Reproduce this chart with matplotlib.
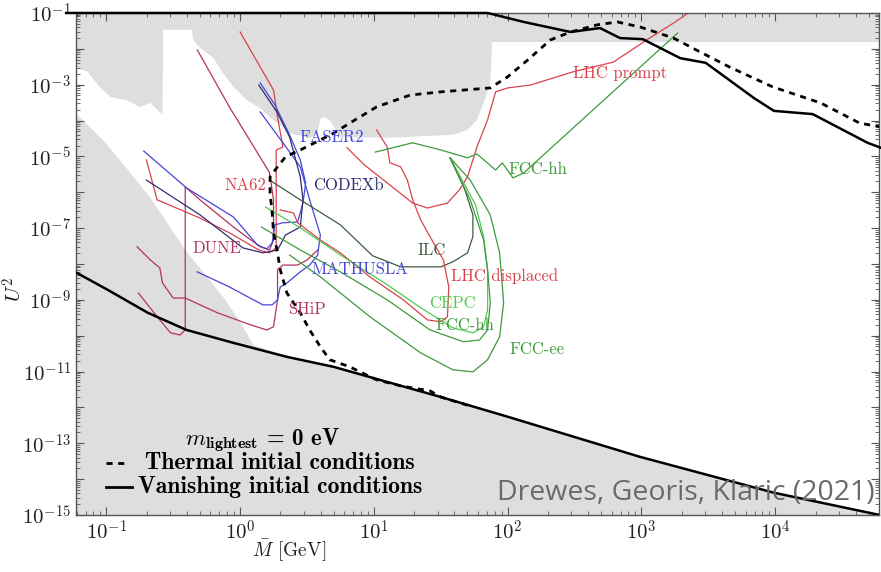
import numpy as np
import matplotlib
matplotlib.use('Agg')
import matplotlib.pyplot as plt
from matplotlib.ticker import FixedLocator, FuncFormatter, NullFormatter

plt.rcParams['mathtext.fontset'] = 'cm'
plt.rcParams['font.family'] = ['cmr10', 'DejaVu Serif']
plt.rcParams['axes.unicode_minus'] = False

# everything below is log10(M / GeV) and log10(U^2)

# excluded regions (grey)
excl_top_lm = [-1.30, -1.23, -1.14, -1.05, -0.97, -0.85, -0.75, -0.67, -0.58, -0.575, -0.36, -0.35, -0.32,
               -0.28, -0.20, -0.13, -0.05, 0.05, 0.15, 0.22, 0.28, 0.37, 0.52, 0.575, 0.60, 0.62, 0.67,
               0.75, 1.10, 1.59, 1.70, 1.77, 1.82, 1.87, 1.883, 1.89, 4.85]
excl_top_lu = [-2.53, -2.53, -2.64, -3.06, -3.34, -3.43, -3.62, -3.51, -3.84, -1.47, -1.47, -1.75, -1.89,
               -2.03, -2.25, -2.67, -3.06, -3.43, -3.65, -3.90, -4.07, -4.35, -4.48, -4.40, -3.98, -3.90, -3.98,
               -4.46, -4.48, -4.40, -4.26, -3.98, -3.51, -2.95, -1.84, -1.81, -1.81]
excl_low_lm = [-1.30, -1.23, -1.01, -0.90, -0.79, -0.67, -0.56, -0.41, -0.26, -0.11, 0.0, 0.10]
excl_low_lu = [-3.60, -3.79, -4.60, -5.10, -5.60, -6.16, -6.77, -7.61, -8.30, -9.00, -9.61, -10.26]

# BAU curves
vanish_low_lm = [-1.30, -1.22, -0.99, -0.69, -0.40, -0.05, 0.35, 0.70, 1.50, 2.00, 2.99, 3.99, 4.78, 4.85]
vanish_low_lu = [-8.10, -8.25, -8.72, -9.36, -9.84, -10.20, -10.59, -10.87, -11.71, -12.26, -13.38, -14.38, -15.0, -15.05]
vanish_up_lm = [-1.30, 1.85, 2.12, 2.47, 2.69, 2.84, 3.01, 3.29, 3.48, 3.84, 3.99, 4.28, 4.69, 4.79]
vanish_up_lu = [-1.0, -1.0, -1.25, -1.53, -1.42, -1.70, -1.73, -2.26, -2.39, -3.37, -3.73, -3.82, -4.62, -4.76]
thermal_lm = [1.70, 1.50, 1.42, 1.20, 1.02, 0.82, 0.67, 0.60, 0.52, 0.45, 0.35, 0.30, 0.28, 0.25, 0.24, 0.224,
              0.224, 0.28, 0.34, 0.45, 0.60, 0.70, 0.82, 1.02, 1.27, 1.50, 1.87, 2.00, 2.15, 2.32, 2.47, 2.67,
              2.82, 2.99, 3.24, 3.44, 3.66, 3.98, 4.34, 4.63, 4.79]
thermal_lu = [-11.94, -11.71, -11.54, -11.40, -11.23, -10.87, -10.67, -10.31, -9.84, -9.36, -8.81, -8.16, -7.69,
              -7.13, -6.58, -6.02, -5.57, -5.29, -5.01, -4.82, -4.54, -4.35, -4.07, -3.62, -3.29, -3.20, -3.09,
              -2.78, -2.31, -1.75, -1.53, -1.33, -1.25, -1.39, -1.70, -2.09, -2.51, -3.06, -3.51, -4.07, -4.18]

# experiments
na62_lm = [-0.70, -0.62, -0.30, -0.08, 0.14, 0.22, 0.27, 0.27, 0.32, 0.28, 0.25, 0.0]
na62_lu = [-5.10, -6.21, -6.72, -7.13, -7.61, -7.69, -7.55, -4.82, -4.74, -3.90, -3.15, -1.53]
dune_lm = [-0.76, -0.62, -0.52, -0.45, -0.41, -0.41, -0.30, -0.05, 0.15, 0.22, 0.25, 0.25, 0.22, -0.08, -0.32]
dune_lu = [-8.81, -9.47, -9.92, -9.98, -9.84, -5.85, -6.21, -6.97, -7.52, -7.61, -7.33, -6.21, -5.45, -3.62, -2.03]
ship_lm = [-0.77, -0.67, -0.60, -0.58, -0.50, -0.41, -0.17, 0.08, 0.20, 0.25, 0.28, 0.28, 0.32, 0.43, 0.50, 0.58]
ship_lu = [-7.52, -7.89, -8.11, -8.53, -8.95, -8.95, -9.36, -9.70, -9.84, -9.75, -9.00, -8.16, -8.03, -8.03, -7.89, -7.61]
mathusla_lm = [-0.32, -0.08, 0.17, 0.24, 0.28, 0.30, 0.35, 0.45, 0.52, 0.58, 0.60, 0.52, 0.45, 0.32, 0.15]
mathusla_lu = [-8.22, -8.64, -9.14, -9.14, -9.00, -8.64, -8.53, -8.22, -8.03, -7.75, -7.19, -6.21, -5.29, -4.62, -3.76]
faser2_lm = [-0.72, -0.40, -0.05, 0.13, 0.20, 0.24, 0.26, 0.32, 0.43, 0.47, 0.49, 0.45, 0.37, 0.26, 0.15]
faser2_lu = [-4.85, -5.88, -6.69, -7.47, -7.58, -7.41, -6.91, -6.85, -6.83, -6.30, -5.74, -5.10, -4.40, -3.56, -2.95]
codexb_lm = [-0.70, -0.30, 0.02, 0.17, 0.28, 0.34, 0.45, 0.47, 0.45, 0.37, 0.28, 0.14]
codexb_lu = [-5.66, -6.63, -7.55, -7.69, -7.61, -7.19, -6.97, -6.21, -5.57, -4.46, -3.79, -3.01]
ilc_lm = [0.22, 0.45, 0.75, 0.99, 1.20, 1.50, 1.59, 1.70, 1.74, 1.74, 1.68, 1.57]
ilc_lu = [-5.66, -6.21, -6.91, -7.77, -8.08, -8.08, -7.94, -7.69, -7.24, -6.63, -5.93, -5.04]
lhc_prompt_lm = [0.80, 0.93, 1.10, 1.29, 1.40, 1.55, 1.64, 1.70, 1.77, 1.85, 1.91, 2.00, 2.17, 2.49, 2.79, 3.04, 3.24, 3.35]
lhc_prompt_lu = [-4.76, -5.24, -5.74, -6.30, -6.44, -6.30, -5.93, -5.57, -4.74, -3.98, -3.20, -3.09, -3.01, -2.64, -2.37, -1.75, -1.28, -1.0]
lhc_displ_lm = [0.30, 0.40, 0.43, 0.60, 0.75, 0.97, 1.22, 1.40, 1.50, 1.55, 1.56, 1.52, 1.42, 1.35, 1.29, 1.25, 1.20, 1.12, 1.10, 1.02]
lhc_displ_lu = [-6.49, -6.58, -6.85, -7.33, -7.69, -8.36, -9.00, -9.56, -9.61, -9.47, -8.64, -7.89, -7.24, -6.77, -6.21, -5.66, -5.29, -5.18, -4.74, -4.26]
fcchh_w_lm = [1.01, 1.29, 1.50, 1.70, 1.77, 1.91, 1.96, 2.04, 2.12, 3.27]
fcchh_w_lu = [-4.88, -4.62, -4.82, -5.04, -4.93, -5.38, -5.18, -5.60, -5.46, -1.56]
cepc_lm = [0.19, 0.45, 0.75, 1.10, 1.35, 1.59, 1.74, 1.82, 1.85, 1.85, 1.82, 1.76, 1.66, 1.57]
cepc_lu = [-6.41, -6.99, -7.75, -8.58, -9.22, -9.78, -9.92, -9.75, -9.28, -8.16, -7.24, -6.35, -5.66, -5.04]
fcchh_d_lm = [0.16, 0.45, 0.75, 1.10, 1.42, 1.67, 1.79, 1.85, 1.87, 1.85, 1.82, 1.72, 1.57]
fcchh_d_lu = [-6.97, -7.61, -8.22, -9.00, -9.84, -10.17, -10.12, -9.84, -9.08, -8.16, -7.33, -6.21, -5.04]
fccee_lm = [0.37, 0.60, 0.97, 1.35, 1.59, 1.74, 1.85, 1.94, 1.97, 1.94, 1.87, 1.72, 1.57]
fccee_lu = [-7.75, -8.36, -9.47, -10.48, -10.95, -11.01, -10.67, -10.03, -9.08, -7.69, -6.63, -5.66, -5.04]

RED = '#d8434b'
CRIMSON = '#b3335e'
BLUE = '#4646d6'
NAVY = '#2e2e72'
DKGREEN = '#3e5c42'
GREEN = '#3d9a3d'
LTGREEN = '#4fcb4f'
GREY = '#dedede'


def P(a):
    return 10.0 ** np.asarray(a)


fig = plt.figure(figsize=(8.81, 5.72), dpi=100)
ax = fig.add_axes([0.0863, 0.0997, 0.9115, 0.8776])
ax.set_xscale('log')
ax.set_yscale('log')
ax.set_xlim(0.0594, 5.97e4)
ax.set_ylim(1e-15, 1e-1)

# grey areas
ax.fill(P(excl_top_lm + [4.85, -1.30]), P(excl_top_lu + [-0.5, -0.5]), color=GREY, lw=0, zorder=0)
low_lm = excl_low_lm + [v for v in vanish_low_lm if v > 0.12] + [-1.30]
low_lu = excl_low_lu + [u for v, u in zip(vanish_low_lm, vanish_low_lu) if v > 0.12] + [-15.5]
low_lm = low_lm[:-1] + [4.85, -1.30]
low_lu = low_lu[:-1] + [-15.5, -15.5]
ax.fill(P(low_lm), P(low_lu), color=GREY, lw=0, zorder=0)

# sensitivity curves
curves = [
    (na62_lm, na62_lu, RED),
    (dune_lm, dune_lu, CRIMSON),
    (ship_lm, ship_lu, CRIMSON),
    (mathusla_lm, mathusla_lu, BLUE),
    (faser2_lm, faser2_lu, BLUE),
    (codexb_lm, codexb_lu, NAVY),
    (ilc_lm, ilc_lu, DKGREEN),
    (lhc_prompt_lm, lhc_prompt_lu, RED),
    (lhc_displ_lm, lhc_displ_lu, RED),
    (fcchh_w_lm, fcchh_w_lu, GREEN),
    (cepc_lm, cepc_lu, LTGREEN),
    (fcchh_d_lm, fcchh_d_lu, GREEN),
    (fccee_lm, fccee_lu, GREEN),
]
for lm, lu, c in curves:
    ax.plot(P(lm), P(lu), color=c, lw=0.9, zorder=2)

# BAU lines
ax.plot(P(vanish_low_lm), P(vanish_low_lu), color='black', lw=1.8, zorder=4)
ax.plot(P(vanish_up_lm), P(vanish_up_lu), color='black', lw=1.8, zorder=4, clip_on=False)
ax.plot(P(thermal_lm), P(thermal_lu), color='black', lw=2.0, ls=(0, (2.2, 2.0)), zorder=4)

# labels
lab = dict(fontfamily='cmr10', fontsize=12, ha='center', va='center', zorder=5)
ax.text(4.87, 3.3e-5, 'FASER2', color=BLUE, **lab)
ax.text(1.09, 1.6e-6, 'NA62', color=RED, **lab)
ax.text(6.4, 1.6e-6, 'CODEXb', color=NAVY, **lab)
ax.text(0.67, 2.8e-8, 'DUNE', color=CRIMSON, **lab)
ax.text(27.2, 2.4e-8, 'ILC', color=DKGREEN, **lab)
ax.text(7.9, 6.9e-9, 'MATHUSLA', color=BLUE, **lab)
ax.text(95.6, 4.7e-9, 'LHC displaced', color=RED, **lab)
ax.text(3.17, 5.3e-10, 'SHiP', color=CRIMSON, **lab)
ax.text(38.4, 7.8e-10, 'CEPC', color=LTGREEN, **lab)
ax.text(48.0, 2.0e-10, 'FCC-hh', color=GREEN, **lab)
ax.text(166, 4.1e-11, 'FCC-ee', color=GREEN, **lab)
ax.text(692, 2.1e-3, 'LHC prompt', color=RED, **lab)
ax.text(169, 4.5e-6, 'FCC-hh', color=GREEN, **lab)

# legend block
ax.text(0.232, 0.149, r'$m_{\mathbf{lightest}}$ = 0 eV', transform=ax.transAxes, fontfamily='cmb10',
        fontsize=16.5, ha='center', va='center', zorder=6)
ax.plot([0.037, 0.061], [0.104, 0.104], transform=ax.transAxes, color='black', lw=2.0,
        ls=(0, (2.2, 2.0)), zorder=6)
ax.text(0.086, 0.104, 'Thermal initial conditions', transform=ax.transAxes, fontfamily='cmb10',
        fontsize=17, ha='left', va='center', zorder=6)
ax.plot([0.037, 0.070], [0.056, 0.056], transform=ax.transAxes, color='black', lw=2.0, zorder=6)
ax.text(0.077, 0.056, 'Vanishing initial conditions', transform=ax.transAxes, fontfamily='cmb10',
        fontsize=17, ha='left', va='center', zorder=6)

# axes
xt = [1e-1, 1e0, 1e1, 1e2, 1e3, 1e4]
ax.xaxis.set_major_locator(FixedLocator(xt))
ax.xaxis.set_major_formatter(FuncFormatter(lambda v, _: r'$10^{%d}$' % round(np.log10(v))))
xminor = [m * 10.0 ** e for e in range(-2, 5) for m in range(2, 10)]
ax.xaxis.set_minor_locator(FixedLocator(xminor))
ax.xaxis.set_minor_formatter(NullFormatter())
ax.yaxis.set_major_locator(FixedLocator([10.0 ** e for e in range(-15, 0)]))
ax.yaxis.set_major_formatter(FuncFormatter(
    lambda v, _: r'$10^{%d}$' % round(np.log10(v)) if round(np.log10(v)) % 2 else ''))
yminor = [m * 10.0 ** e for e in range(-16, 0) for m in range(2, 10)]
ax.yaxis.set_minor_locator(FixedLocator(yminor))
ax.yaxis.set_minor_formatter(NullFormatter())
ax.tick_params(which='both', direction='in', top=True, right=True, colors='#555555', labelcolor='#222222')
ax.tick_params(which='major', length=6, labelsize=15)
ax.tick_params(which='minor', length=3)
for s in ax.spines.values():
    s.set_color('#555555')
    s.set_linewidth(1.0)

ax.set_xlabel(r'$\bar{M}$ [GeV]', fontsize=14, color='#222222')
ax.xaxis.set_label_coords(0.266, -0.045)
ax.set_ylabel(r'$U^2$', fontsize=15, color='#222222')
ax.yaxis.set_label_coords(-0.062, 0.45)

fig.text(0.993, 0.138, 'Drewes, Georis, Klaric (2021)', fontfamily='Open Sans', fontsize=20.5,
         color='#6a6a6a', ha='right', va='center', zorder=10)

fig.savefig('out.png', dpi=100)
